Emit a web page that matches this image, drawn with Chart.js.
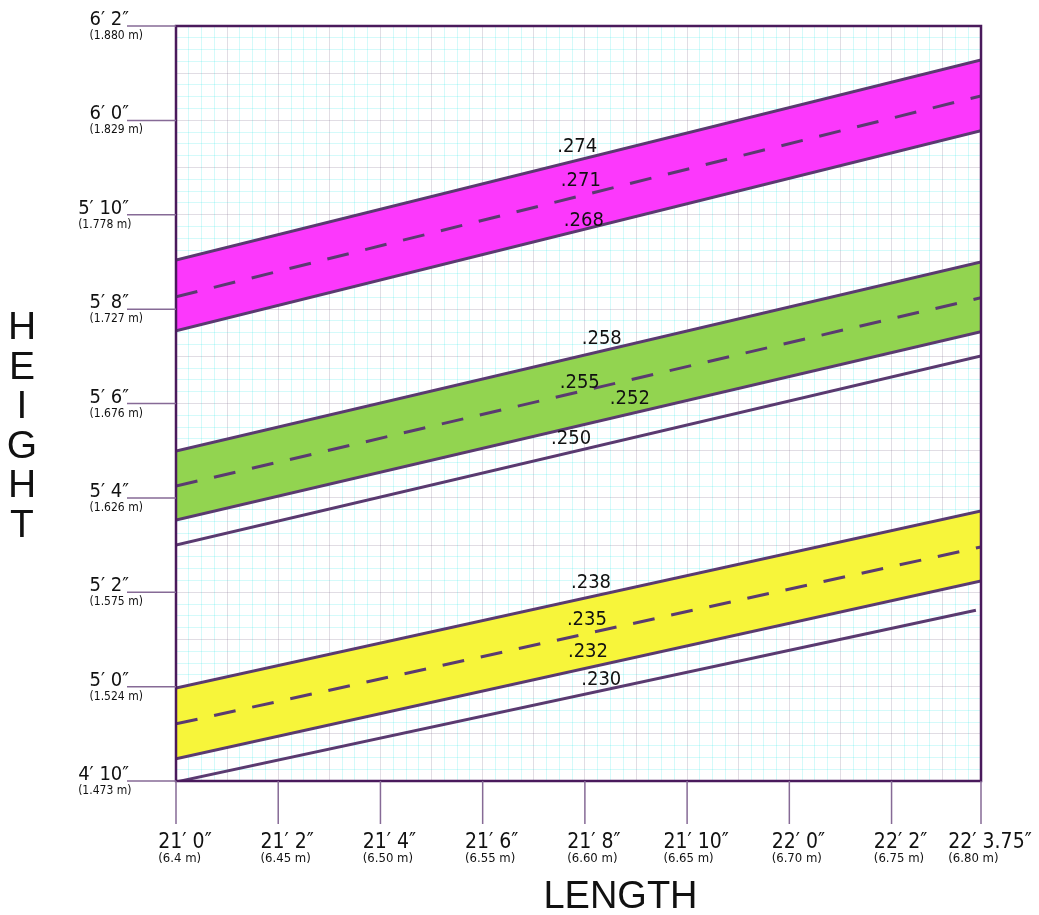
<!DOCTYPE html>
<html>
<head>
<meta charset="utf-8">
<script src="https://cdn.jsdelivr.net/npm/chart.js@4.4.1/dist/chart.umd.min.js"></script>
<style>
  html, body { margin: 0; padding: 0; background: #ffffff; }
  #wrap { width: 1039px; height: 915px; position: relative; }
</style>
</head>
<body>
<div id="wrap"><canvas id="ratioChart"></canvas></div>
<script>
// lengths and heights in inches
const ratioNames = ['.274', '.271', '.268', '.258', '.255', '.252', '.250', '.238', '.235', '.232', '.230'];
const lineStartX = [252, 252, 252, 252, 252, 252, 252, 252, 252, 252, 252];
const lineEndX = [267.75, 267.75, 267.75, 267.75, 267.75, 267.75, 267.75, 267.75, 267.75, 267.75, 267.65];
const lineStartH = [69.04, 68.26, 67.54, 64.99, 64.25, 63.53, 63.00, 59.97, 59.21, 58.47, 57.98];
const lineEndH = [73.28, 72.52, 71.78, 69.00, 68.24, 67.52, 67.01, 63.72, 62.96, 62.24, 61.62];
const dashedLines = ['.271', '.255', '.235'];

// bands: lower line filled up to upper line
const bandTop = ['.274', '.258', '.238'];
const bandBottom = ['.268', '.252', '.232'];
const bandColors = ['rgb(252, 56, 252)', 'rgb(146, 212, 80)', 'rgb(247, 245, 58)'];

// where the ratio labels sit (data units)
const labelX = [259.85, 259.92, 259.98, 260.33, 259.90, 260.88, 259.73, 260.12, 260.04, 260.06, 260.32];
const labelY = [71.44, 70.72, 69.87, 67.37, 66.43, 66.10, 65.25, 62.20, 61.41, 60.73, 60.14];

const xTicks = [252, 254, 256, 258, 260, 262, 264, 266, 267.75];
const xTickLabels = ['21\u2032 0\u2033', '21\u2032 2\u2033', '21\u2032 4\u2033', '21\u2032 6\u2033', '21\u2032 8\u2033', '21\u2032 10\u2033', '22\u2032 0\u2033', '22\u2032 2\u2033', '22\u2032 3.75\u2033'];
const xTickMetric = ['(6.4 m)', '(6.45 m)', '(6.50 m)', '(6.55 m)', '(6.60 m)', '(6.65 m)', '(6.70 m)', '(6.75 m)', '(6.80 m)'];

const yTicks = [58, 60, 62, 64, 66, 68, 70, 72, 74];
const yTickLabels = ['4\u2032 10\u2033', '5\u2032 0\u2033', '5\u2032 2\u2033', '5\u2032 4\u2033', '5\u2032 6\u2033', '5\u2032 8\u2033', '5\u2032 10\u2033', '6\u2032 0\u2033', '6\u2032 2\u2033'];
const yTickMetric = ['(1.473 m)', '(1.524 m)', '(1.575 m)', '(1.626 m)', '(1.676 m)', '(1.727 m)', '(1.778 m)', '(1.829 m)', '(1.880 m)'];

const LINE_COLOR = '#5a3a70';
const FRAME_COLOR = '#4a1a5c';
const TICK_COLOR = '#866a96';
const FONT = '"DejaVu Sans Condensed", "DejaVu Sans", Verdana, sans-serif';

function buildDatasets() {
  return ratioNames.map((name, i) => {
    const ds = {
      label: name,
      data: [{ x: lineStartX[i], y: lineStartH[i] }, { x: lineEndX[i], y: lineEndH[i] }],
      borderColor: LINE_COLOR,
      borderWidth: 3,
      pointRadius: 0,
      tension: 0,
      fill: false,
    };
    if (dashedLines.includes(name)) {
      ds.borderDash = [22, 17];
    }
    // datasets are painted last-to-first, so the fill goes on the lower line
    const b = bandBottom.indexOf(name);
    if (b >= 0) {
      ds.fill = { target: ratioNames.indexOf(bandTop[b]) };
      ds.backgroundColor = bandColors[b];
    }
    return ds;
  });
}

function gridColor(ctx) {
  if (ctx.tick && Number.isInteger(ctx.tick.value)) {
    return 'rgba(120, 100, 130, 0.22)';
  }
  return 'rgba(0, 225, 225, 0.17)';
}

// frame, outer ticks, tick labels, axis titles, ratio labels
const decorPlugin = {
  id: 'decor',
  afterDraw(chart) {
    const ctx = chart.ctx;
    const area = chart.chartArea;
    const xs = chart.scales.x;
    const ys = chart.scales.y;

    ctx.save();

    // frame
    ctx.strokeStyle = FRAME_COLOR;
    ctx.lineWidth = 2.5;
    ctx.strokeRect(area.left, area.top, area.right - area.left, area.bottom - area.top);

    // y ticks + labels
    ctx.strokeStyle = TICK_COLOR;
    ctx.lineWidth = 1.5;
    yTicks.forEach((v, i) => {
      const py = ys.getPixelForValue(v);
      ctx.beginPath();
      ctx.moveTo(127, py);
      ctx.lineTo(area.left, py);
      ctx.stroke();

      ctx.fillStyle = '#111111';
      ctx.font = '20px ' + FONT;
      ctx.textAlign = 'right';
      ctx.textBaseline = 'alphabetic';
      const w = ctx.measureText(yTickLabels[i]).width;
      ctx.fillText(yTickLabels[i], 129, py - 1);
      ctx.font = '12px ' + FONT;
      ctx.textAlign = 'left';
      ctx.fillText(yTickMetric[i], 129 - w, py + 13);
    });

    // x ticks + labels
    xTicks.forEach((v, i) => {
      const px = xs.getPixelForValue(v);
      ctx.beginPath();
      ctx.moveTo(px, area.bottom);
      ctx.lineTo(px, area.bottom + 43);
      ctx.stroke();

      ctx.fillStyle = '#111111';
      ctx.font = '21px ' + FONT;
      ctx.textAlign = 'center';
      ctx.textBaseline = 'alphabetic';
      const w = ctx.measureText(xTickLabels[i]).width;
      ctx.fillText(xTickLabels[i], px + 9, area.bottom + 67);
      ctx.font = '13px ' + FONT;
      ctx.textAlign = 'left';
      ctx.fillText(xTickMetric[i], px + 9 - w / 2, area.bottom + 81);
    });

    // ratio labels
    ctx.font = '20px ' + FONT;
    ctx.textAlign = 'center';
    ctx.textBaseline = 'middle';
    ctx.fillStyle = '#111111';
    ratioNames.forEach((name, i) => {
      ctx.fillText(name, xs.getPixelForValue(labelX[i]), ys.getPixelForValue(labelY[i]));
    });

    // axis titles
    ctx.font = '39px "Liberation Sans", Arial, sans-serif';
    ctx.textAlign = 'center';
    ctx.textBaseline = 'alphabetic';
    'HEIGHT'.split('').forEach((ch, i) => {
      ctx.fillText(ch, 22, 339 + i * 39.5);
    });
    ctx.font = '38px "Liberation Sans", Arial, sans-serif';
    ctx.fillText('LENGTH', (area.left + area.right) / 2 + 42, 908);

    ctx.restore();
  }
};

function drawChart() {
  const ctx = document.getElementById('ratioChart').getContext('2d');

  new Chart(ctx, {
    type: 'line',
    data: { datasets: buildDatasets() },
    options: {
      responsive: true,
      maintainAspectRatio: false,
      animation: false,
      layout: { padding: { left: 176, top: 26, right: 58, bottom: 134 } },
      plugins: {
        legend: { display: false },
        tooltip: { enabled: false },
      },
      scales: {
        x: {
          type: 'linear',
          min: 252,
          max: 267.75,
          z: 1,
          ticks: { display: false, stepSize: 0.25 },
          grid: { color: gridColor, lineWidth: 1, drawTicks: false },
          border: { display: false },
          afterFit: (scale) => { scale.height = 0; },
        },
        y: {
          type: 'linear',
          min: 58,
          max: 74,
          z: 1,
          ticks: { display: false, stepSize: 0.25 },
          grid: { color: gridColor, lineWidth: 1, drawTicks: false },
          border: { display: false },
          afterFit: (scale) => { scale.width = 0; },
        },
      },
    },
    plugins: [decorPlugin],
  });
}

document.addEventListener('DOMContentLoaded', () => {
  drawChart();
});
</script>
</body>
</html>
